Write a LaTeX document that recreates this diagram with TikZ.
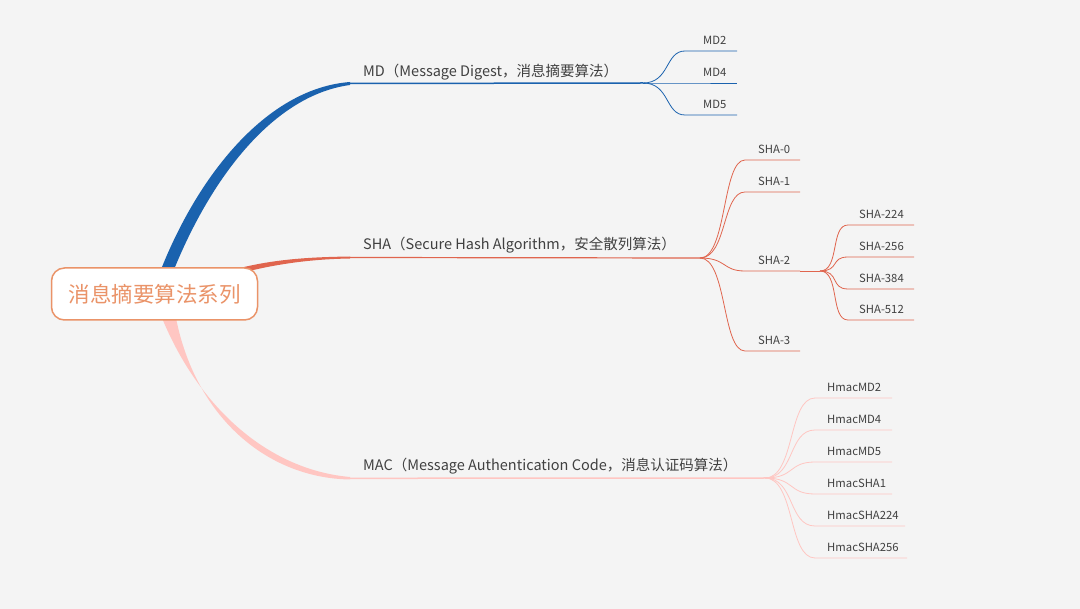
\documentclass[tikz,border=0pt]{standalone}
\usepackage{fontspec}
\setmainfont{Noto Sans CJK SC}
\definecolor{bg}{HTML}{F4F4F4}
\definecolor{mdc}{HTML}{1A62AE}
\definecolor{shac}{HTML}{E0654E}
\definecolor{macc}{HTML}{FFC6C2}
\definecolor{rootc}{HTML}{EA9368}
\definecolor{txt}{HTML}{404040}
\tikzset{
 lab/.style={font=\fontsize{14.5}{16}\selectfont,text=txt,anchor=west,inner sep=0},
 leaf/.style={font=\fontsize{11.3}{13}\selectfont,text=txt,anchor=west,inner sep=0},
}
\begin{document}
\begin{tikzpicture}[x=1pt,y=-1pt]
\fill[bg] (0,0) rectangle (1080,609);
\useasboundingbox (0,0) rectangle (1080,609);
% main tapered branches
\fill[mdc] (160,272) .. controls (200,170) and (270,88) .. (350,82) -- (350,85) .. controls (275,95) and (212,175) .. (173,272) -- cycle;
\fill[shac] (240,268) .. controls (280,258) and (320,257) .. (350,256.5) -- (350,258.5) .. controls (320,259) and (285,262) .. (245,272) -- cycle;
\fill[macc] (162,318) .. controls (200,410) and (270,470) .. (350,477) -- (350,479.5) .. controls (265,478) and (195,415) .. (176,318) -- cycle;
\node[draw=rootc,line width=1.5pt,fill=white,rounded corners=13pt,minimum width=206pt,minimum height=52pt,text=rootc,font=\fontsize{21.5}{24}\selectfont] (root) at (154.5,294) {消息摘要算法系列};
% MD
\node[lab] (md) at (363,72) {MD（Message Digest，消息摘要算法）};
\coordinate (mdf) at (643,83);
\draw[mdc,line width=1.5pt] (350,83.5) -- (mdf);
\foreach \n/\y in {MD2/51,MD4/83,MD5/115}{
 \node[leaf] (\n) at (703,\y-11) {\n};
 \draw[mdc,line width=0.8pt] (mdf) .. controls (670,83) and (665,\y) .. (685,\y) -- (737,\y);
}
% SHA
\node[lab] (sha) at (363,245) {SHA（Secure Hash Algorithm，安全散列算法）};
\coordinate (shaf) at (700,258);
\draw[shac,line width=1.2pt] (350,257.5) -- (shaf);
\foreach \n/\y in {SHA-0/160,SHA-1/192,SHA-2/271,SHA-3/351}{
 \node[leaf] (\n) at (758,\y-11) {\n};
 \draw[shac,line width=0.8pt] (shaf) .. controls (727,258) and (722,\y) .. (745,\y) -- (800,\y);
}
\coordinate (sha2f) at (820,271);
\draw[shac,line width=0.8pt] (800,271) -- (sha2f);
\foreach \n/\y in {SHA-224/225,SHA-256/257,SHA-384/289,SHA-512/320}{
 \node[leaf] (\n) at (859,\y-11) {\n};
 \draw[shac,line width=0.8pt] (sha2f) .. controls (840,271) and (830,\y) .. (848,\y) -- (914,\y);
}
% MAC
\node[lab] (mac) at (363,466) {MAC（Message Authentication Code，消息认证码算法）};
\coordinate (macf) at (765,478);
\draw[macc,line width=1.5pt] (350,478.3) -- (macf);
\foreach \n/\y/\e in {HmacMD2/398/892,HmacMD4/430/892,HmacMD5/462/892,HmacSHA1/494/892,HmacSHA224/526/905,HmacSHA256/558/907}{
 \node[leaf] (\n) at (827,\y-11) {\n};
 \draw[macc,line width=0.8pt] (macf) .. controls (795,478) and (788,\y) .. (815,\y) -- (\e,\y);
}
\end{tikzpicture}
\end{document}
